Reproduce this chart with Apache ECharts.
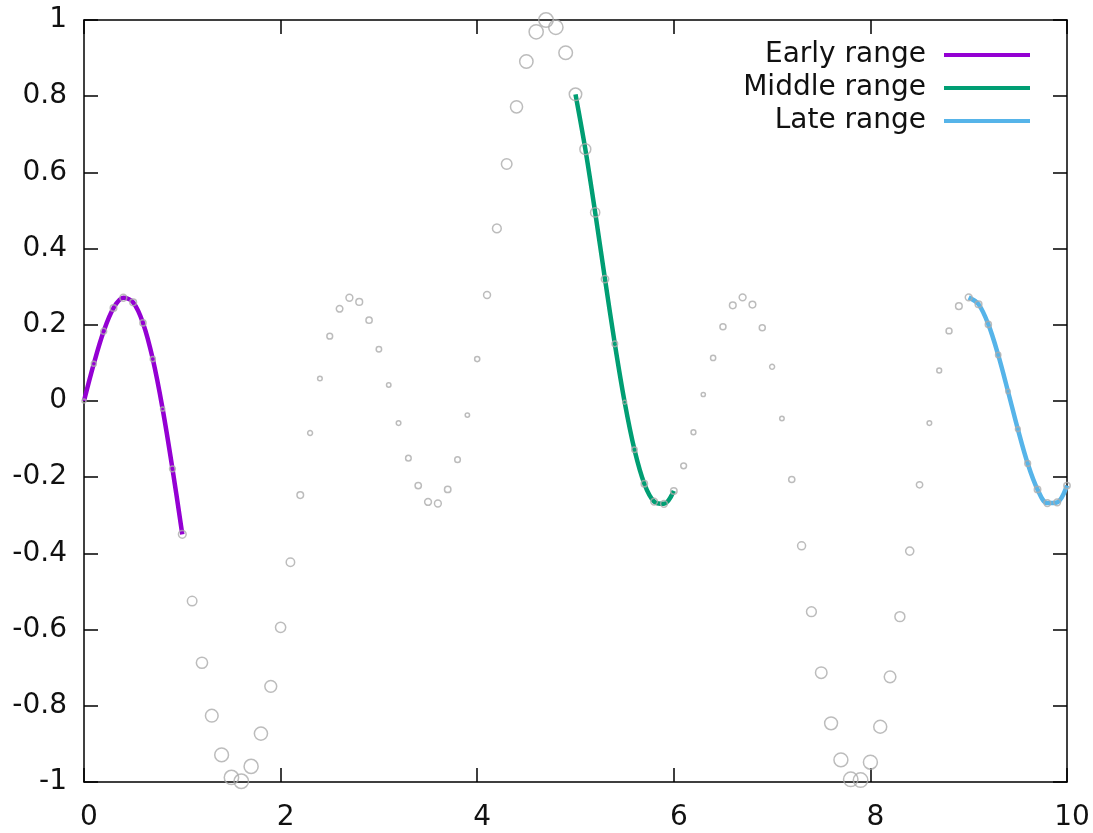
<!DOCTYPE html>
<html>
<head>
<meta charset="utf-8">
<script src="https://cdn.jsdelivr.net/npm/echarts@6/dist/echarts.min.js"></script>
<style>
html,body{margin:0;padding:0;background:#fff;}
#chart{width:1093px;height:833px;}
</style>
</head>
<body>
<div id="chart"></div>
<script>
// sample positions
const xs = [0, 0.1, 0.2, 0.3, 0.4, 0.5, 0.6, 0.7, 0.8, 0.9, 1.0,
  1.1, 1.2, 1.3, 1.4, 1.5, 1.6, 1.7, 1.8, 1.9, 2.0,
  2.1, 2.2, 2.3, 2.4, 2.5, 2.6, 2.7, 2.8, 2.9, 3.0,
  3.1, 3.2, 3.3, 3.4, 3.5, 3.6, 3.7, 3.8, 3.9, 4.0,
  4.1, 4.2, 4.3, 4.4, 4.5, 4.6, 4.7, 4.8, 4.9, 5.0,
  5.1, 5.2, 5.3, 5.4, 5.5, 5.6, 5.7, 5.8, 5.9, 6.0,
  6.1, 6.2, 6.3, 6.4, 6.5, 6.6, 6.7, 6.8, 6.9, 7.0,
  7.1, 7.2, 7.3, 7.4, 7.5, 7.6, 7.7, 7.8, 7.9, 8.0,
  8.1, 8.2, 8.3, 8.4, 8.5, 8.6, 8.7, 8.8, 8.9, 9.0,
  9.1, 9.2, 9.3, 9.4, 9.5, 9.6, 9.7, 9.8, 9.9, 10.0];
const ys = [0, 0.098, 0.183, 0.244, 0.271, 0.259, 0.205, 0.110, -0.021, -0.178, -0.350,
  -0.525, -0.687, -0.826, -0.929, -0.988, -0.998, -0.959, -0.873, -0.749, -0.594,
  -0.423, -0.247, -0.084, 0.059, 0.170, 0.242, 0.271, 0.260, 0.212, 0.136,
  0.042, -0.058, -0.150, -0.222, -0.265, -0.269, -0.232, -0.154, -0.037, 0.110,
  0.278, 0.453, 0.622, 0.772, 0.891, 0.969, 1.000, 0.981, 0.914, 0.805,
  0.661, 0.495, 0.320, 0.150, -0.003, -0.128, -0.217, -0.264, -0.270, -0.236,
  -0.170, -0.082, 0.017, 0.113, 0.195, 0.251, 0.272, 0.253, 0.192, 0.090,
  -0.046, -0.206, -0.380, -0.553, -0.713, -0.846, -0.942, -0.993, -0.995, -0.948,
  -0.855, -0.724, -0.566, -0.394, -0.220, -0.058, 0.080, 0.184, 0.249, 0.272,
  0.254, 0.201, 0.121, 0.025, -0.074, -0.164, -0.232, -0.268, -0.266, -0.222];
// highlighted ranges
const rangeNames = ['Early range', 'Middle range', 'Late range'];
const rangeStart = [0, 5, 9];
const rangeEnd = [1, 6, 10];
const rangeColors = ['#9400d3', '#009e73', '#56b4e9'];

const points = xs.map((x, i) => [x, ys[i]]);
const lineSeries = rangeNames.map((name, k) => ({
  name: name,
  type: 'line',
  data: points.filter(p => p[0] >= rangeStart[k] - 1e-9 && p[0] <= rangeEnd[k] + 1e-9),
  smooth: 0.35,
  showSymbol: false,
  lineStyle: { color: rangeColors[k], width: 4.5 },
  itemStyle: { color: rangeColors[k] },
  z: 2,
  xAxisIndex: 0, yAxisIndex: 0
}));

const FONT = 'DejaVu Sans';
const FS = 28;
const chart = echarts.init(document.getElementById('chart'), null, { renderer: 'canvas' });
const axisLineStyle = { color: '#000', width: 1.5 };
const tick = { show: true, inside: true, length: 14, lineStyle: axisLineStyle };
const option = {
  animation: false,
  backgroundColor: '#fff',
  textStyle: { fontFamily: FONT },
  grid: { left: 84, right: 26, top: 20, bottom: 51, containLabel: false },
  legend: {
    data: rangeNames,
    orient: 'vertical',
    align: 'right',
    right: 58,
    top: 36,
    itemWidth: 86,
    itemHeight: 4,
    itemGap: 5,
    icon: 'rect',
    textStyle: { fontFamily: FONT, fontSize: FS, color: '#111', padding: [0, 13, 0, 0] }
  },
  xAxis: [{
    type: 'value', min: 0, max: 10, interval: 2, position: 'bottom',
    axisLine: { show: true, onZero: false, lineStyle: axisLineStyle },
    axisTick: tick,
    axisLabel: { fontFamily: FONT, fontSize: FS, color: '#111', margin: 22, padding: [0, 0, 0, 10] },
    splitLine: { show: false }
  }, {
    type: 'value', min: 0, max: 10, interval: 2, position: 'top',
    axisLine: { show: true, onZero: false, lineStyle: axisLineStyle },
    axisTick: tick,
    axisLabel: { show: false },
    splitLine: { show: false }
  }],
  yAxis: [{
    type: 'value', min: -1, max: 1, interval: 0.2, position: 'left',
    axisLine: { show: true, onZero: false, lineStyle: axisLineStyle },
    axisTick: tick,
    axisLabel: { fontFamily: FONT, fontSize: FS, color: '#111', margin: 17, padding: [3, 0, 0, 0],
      formatter: v => String(Math.round(v * 10) / 10) },
    splitLine: { show: false }
  }, {
    type: 'value', min: -1, max: 1, interval: 0.2, position: 'right',
    axisLine: { show: true, onZero: false, lineStyle: axisLineStyle },
    axisTick: tick,
    axisLabel: { show: false },
    splitLine: { show: false }
  }],
  series: lineSeries.concat([{
    name: 'samples',
    type: 'scatter',
    data: points,
    symbol: 'circle',
    symbolSize: v => 4 + 10.5 * Math.abs(v[1]),
    itemStyle: { color: 'rgba(0,0,0,0)', borderColor: '#ababab', borderWidth: 1.5 },
    z: 3,
    silent: true,
    xAxisIndex: 0, yAxisIndex: 0
  }])
};
chart.setOption(option);
</script>
</body>
</html>
